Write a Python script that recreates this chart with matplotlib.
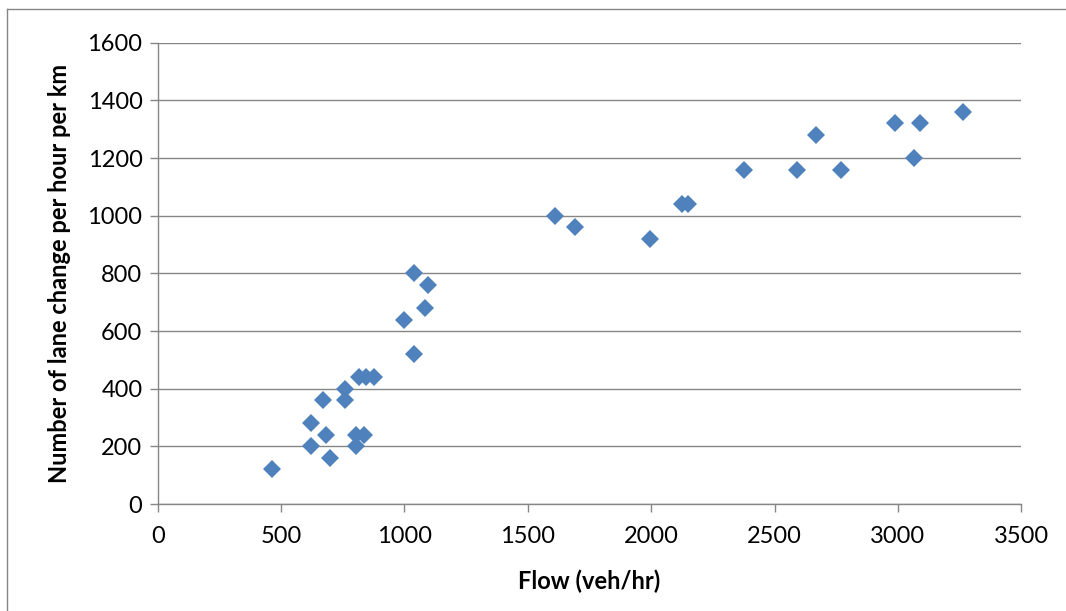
import numpy as np
import matplotlib
matplotlib.use('Agg')
import matplotlib.pyplot as plt
from matplotlib.lines import Line2D

flow = [465, 620, 620, 670, 680, 700, 760, 760, 805, 805, 835,
        815, 845, 875, 1000, 1040, 1040, 1085, 1095,
        1610, 1690, 1995, 2125, 2150, 2375, 2590, 2670, 2770,
        2990, 3065, 3090, 3265]
lane_changes = [120, 280, 200, 360, 240, 160, 360, 400, 240, 200, 240,
                440, 440, 440, 640, 800, 520, 680, 760,
                1000, 960, 920, 1040, 1040, 1160, 1160, 1280, 1160,
                1320, 1200, 1320, 1360]

x_ticks = [0, 500, 1000, 1500, 2000, 2500, 3000, 3500]
y_ticks = [0, 200, 400, 600, 800, 1000, 1200, 1400, 1600]

plt.rcParams['font.family'] = ['Lato', 'DejaVu Sans']

fig = plt.figure(figsize=(10.66, 6.11), dpi=100)
ax = fig.add_axes([0.148, 0.175, 0.810, 0.755])

ax.plot(flow, lane_changes, 'D', color='#4F81BD', markersize=9.5, markeredgewidth=0, zorder=3)

ax.set_xlim(0, 3500)
ax.set_ylim(0, 1600)
ax.set_xticks(x_ticks)
ax.set_yticks(y_ticks)
ax.tick_params(labelsize=17, colors='#868686', labelcolor='black', length=6, width=1, direction='out')
ax.tick_params(axis='x', pad=10)
ax.tick_params(axis='y', pad=5)

ax.grid(axis='y', color='#868686', linewidth=1)
ax.set_axisbelow(True)
for s in ['top', 'right']:
    ax.spines[s].set_visible(False)
for s in ['left', 'bottom']:
    ax.spines[s].set_color('#868686')
    ax.spines[s].set_linewidth(1)

ax.set_xlabel('Flow (veh/hr)', fontsize=17, fontweight='bold', labelpad=16)
ax.set_ylabel('Number of lane change per hour per km', fontsize=17, fontweight='bold', labelpad=12)

# outer chart border
fig.add_artist(Line2D([7/1066, 7/1066], [0, 1 - 9/611], color='#868686', linewidth=1))
fig.add_artist(Line2D([7/1066, 1], [1 - 9/611, 1 - 9/611], color='#868686', linewidth=1))

fig.savefig('out.png', dpi=100)
